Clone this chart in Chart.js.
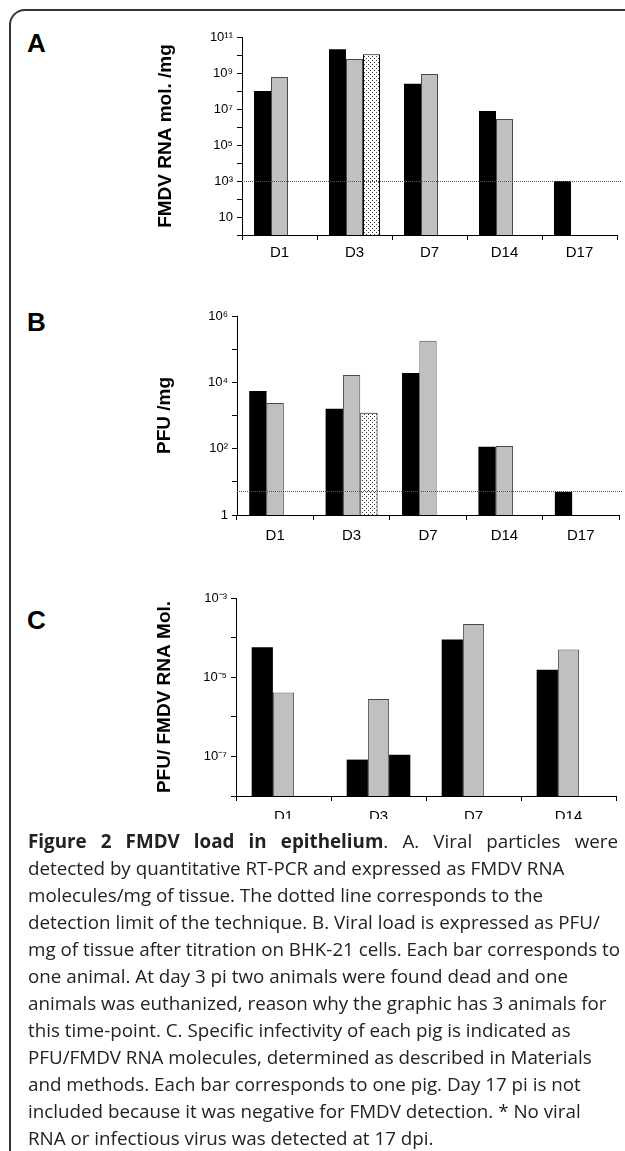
<!DOCTYPE html>
<html>
<head>
<meta charset="utf-8">
<script src="https://cdn.jsdelivr.net/npm/chart.js@4.4.1/dist/chart.umd.min.js"></script>
<style>
  html, body { margin: 0; padding: 0; background: #fff; }
  #fig { position: relative; width: 625px; height: 1151px; overflow: hidden; }
  .frame {
    position: absolute; left: 9px; top: 9px; width: 700px; height: 1200px;
    border-top: 2px solid #333; border-left: 2px solid #333;
    border-top-left-radius: 16px;
  }
  .lbl { position: absolute; left: 27px; font: bold 26px "Liberation Sans", Arial, sans-serif; line-height: 26px; color: #000; }
  canvas { position: absolute; left: 0; }
  .caption {
    position: absolute; left: 28px; top: 819px; width: 590px; padding-top: 8.5px;
    background: #fff; color: #222;
    font: 18.8px "Open Sans", sans-serif; line-height: 27px;
  }
  .caption div { white-space: nowrap; }
  .caption .just { text-align: justify; text-align-last: justify; white-space: normal; }
</style>
</head>
<body>
<div id="fig">
  <div class="frame"></div>
  <div class="lbl" style="top:30px">A</div>
  <div class="lbl" style="top:309px">B</div>
  <div class="lbl" style="top:607px">C</div>
  <canvas id="chartA" width="625" height="270" style="top:0px"></canvas>
  <canvas id="chartB" width="625" height="260" style="top:290px"></canvas>
  <canvas id="chartC" width="625" height="280" style="top:570px"></canvas>
  <div class="caption">
    <div class="just"><b>Figure 2 FMDV load in epithelium</b>. A. Viral particles were</div>
    <div>detected by quantitative RT-PCR and expressed as FMDV RNA</div>
    <div>molecules/mg of tissue. The dotted line corresponds to the</div>
    <div>detection limit of the technique. B. Viral load is expressed as PFU/</div>
    <div>mg of tissue after titration on BHK-21 cells. Each bar corresponds to</div>
    <div>one animal. At day 3 pi two animals were found dead and one</div>
    <div>animals was euthanized, reason why the graphic has 3 animals for</div>
    <div>this time-point. C. Specific infectivity of each pig is indicated as</div>
    <div>PFU/FMDV RNA molecules, determined as described in Materials</div>
    <div>and methods. Each bar corresponds to one pig. Day 17 pi is not</div>
    <div>included because it was negative for FMDV detection. * No viral</div>
    <div>RNA or infectious virus was detected at 17 dpi.</div>
  </div>
</div>
<script>
// days post infection
const days = ['D1', 'D3', 'D7', 'D14', 'D17']
const daysC = ['D1', 'D3', 'D7', 'D14']

// A. FMDV RNA molecules / mg, one series per animal
const rnaPig1 = [1.0e8, 2.1e10, 2.5e8, 7.7e6, 1.0e3]
const rnaPig2 = [6.0e8, 6.0e9, 8.8e8, 2.8e6, null]
const rnaPig3 = [null, 1.1e10, null, null, null]
const rnaLimit = 1e3

// B. PFU / mg
const pfuPig1 = [5.5e3, 1.6e3, 1.9e4, 114, 5]
const pfuPig2 = [2.4e3, 1.65e4, 1.8e5, 120, null]
const pfuPig3 = [null, 1.2e3, null, null, null]
const pfuLimit = 5.3

// C. PFU / FMDV RNA molecules
const ratioPig1 = [5.7e-5, 8.3e-8, 8.9e-5, 1.55e-5]
const ratioPig2 = [4.1e-6, 2.8e-6, 2.2e-4, 5.0e-5]
const ratioPig3 = [null, 1.1e-7, null, null]

// log axis ticks (one per decade, every other one labelled)
const tickValsA = [1, 1e1, 1e2, 1e3, 1e4, 1e5, 1e6, 1e7, 1e8, 1e9, 1e10, 1e11]
const tickLabelsA = ['', '10', '', '10³', '', '10⁵', '', '10⁷', '', '10⁹', '', '10¹¹']
const tickValsB = [1, 1e1, 1e2, 1e3, 1e4, 1e5, 1e6]
const tickLabelsB = ['1', '', '10²', '', '10⁴', '', '10⁶']
const tickValsC = [1e-8, 1e-7, 1e-6, 1e-5, 1e-4, 1e-3]
const tickLabelsC = ['', '10⁻⁷', '', '10⁻⁵', '', '10⁻³']

const axisFont = '"Liberation Sans", Arial, sans-serif'

function dotPattern(ctx) {
  const c = document.createElement('canvas')
  c.width = 4
  c.height = 4
  const g = c.getContext('2d')
  g.fillStyle = '#fff'
  g.fillRect(0, 0, 4, 4)
  g.fillStyle = '#333'
  g.fillRect(0, 0, 1, 1)
  g.fillRect(2, 2, 1, 1)
  return ctx.createPattern(c, 'repeat')
}

// dotted detection-limit line
const limitLine = {
  id: 'limitLine',
  afterDatasetsDraw(chart, args, opts) {
    if (opts.value == null) return
    const { ctx, chartArea, scales } = chart
    const py = Math.round(scales.y.getPixelForValue(opts.value)) + 0.5
    ctx.save()
    ctx.strokeStyle = '#555'
    ctx.lineWidth = 1
    ctx.setLineDash([1, 1])
    ctx.beginPath()
    ctx.moveTo(chartArea.left, py)
    ctx.lineTo(chartArea.right + 4, py)
    ctx.stroke()
    ctx.restore()
  }
}

function makeChart(id, p) {
  const el = document.getElementById(id)
  const ctx = el.getContext('2d')
  const third = p.thirdBlack
    ? { backgroundColor: '#000', borderColor: '#000', borderWidth: 0 }
    : { backgroundColor: dotPattern(ctx), borderColor: '#000', borderWidth: 1 }
  return new Chart(ctx, {
    type: 'bar',
    data: {
      labels: p.labels,
      datasets: [
        { data: p.series[0], backgroundColor: '#000', borderWidth: 0 },
        { data: p.series[1], backgroundColor: '#c0c0c0', borderColor: '#4a4a4a', borderWidth: 1 },
        Object.assign({ data: p.series[2] }, third)
      ]
    },
    plugins: [limitLine],
    options: {
      responsive: false,
      animation: false,
      layout: { padding: { left: 0, right: p.right, top: p.top, bottom: 0 } },
      datasets: { bar: { barPercentage: 1, categoryPercentage: p.catPct } },
      plugins: {
        legend: { display: false },
        tooltip: { enabled: false },
        limitLine: { value: p.limit }
      },
      scales: {
        x: {
          grid: { offset: true, drawOnChartArea: false, color: '#000', tickLength: 5 },
          border: { color: '#000', width: 1 },
          ticks: { color: '#000', font: { family: axisFont, size: 15 }, padding: p.xPad },
          afterFit: s => { s.height = p.xHeight }
        },
        y: {
          type: 'logarithmic',
          min: p.ticks[0],
          max: p.ticks[p.ticks.length - 1],
          grid: { drawOnChartArea: false, color: '#000', tickLength: 5 },
          border: { color: '#000', width: 1 },
          ticks: {
            autoSkip: false,
            color: '#000',
            padding: 4,
            font: { family: axisFont, size: 13 },
            callback: (v, i) => p.tickLabels[i]
          },
          afterBuildTicks: s => { s.ticks = p.ticks.map(v => ({ value: v })) },
          title: {
            display: true,
            text: p.title,
            color: '#000',
            font: { family: axisFont, size: 19, weight: 'bold' },
            padding: { top: p.titleX - 11.4, bottom: 0 }
          },
          afterFit: s => { s.width = p.left }
        }
      }
    }
  })
}

makeChart('chartA', {
  labels: days, series: [rnaPig1, rnaPig2, rnaPig3], limit: rnaLimit,
  ticks: tickValsA, tickLabels: tickLabelsA, title: 'FMDV RNA mol. /mg',
  left: 242, right: 8, top: 37, xHeight: 35, xPad: 4, titleX: 166, catPct: 0.68
})
makeChart('chartB', {
  labels: days, series: [pfuPig1, pfuPig2, pfuPig3], limit: pfuLimit,
  ticks: tickValsB, tickLabels: tickLabelsB, title: 'PFU /mg',
  left: 237, right: 6, top: 26, xHeight: 35, xPad: 7, titleX: 165, catPct: 0.68
})
makeChart('chartC', {
  labels: daysC, series: [ratioPig1, ratioPig2, ratioPig3], limit: null, thirdBlack: true,
  ticks: tickValsC, tickLabels: tickLabelsC, title: 'PFU/ FMDV RNA Mol.',
  left: 236, right: 9, top: 28, xHeight: 54, xPad: 7, titleX: 165, catPct: 0.67
})
</script>
</body>
</html>
